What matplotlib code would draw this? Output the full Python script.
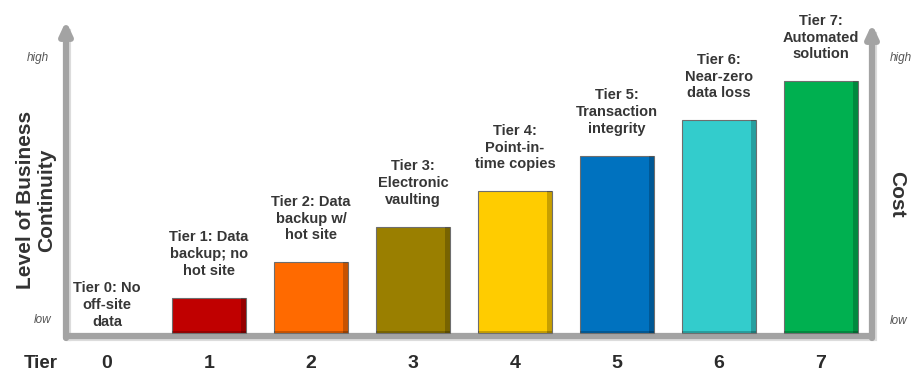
import matplotlib
matplotlib.use("Agg")
import matplotlib.pyplot as plt

tiers = [0, 1, 2, 3, 4, 5, 6, 7]
values = [0, 1.0, 2.0, 3.0, 4.0, 5.0, 6.0, 7.1]
labels = ["Tier 0: No\noff-site\ndata",
          "Tier 1: Data\nbackup; no\nhot site",
          "Tier 2: Data\nbackup w/\nhot site",
          "Tier 3:\nElectronic\nvaulting",
          "Tier 4:\nPoint-in-\ntime copies",
          "Tier 5:\nTransaction\nintegrity",
          "Tier 6:\nNear-zero\ndata loss",
          "Tier 7:\nAutomated\nsolution"]
colors = ["#ffffff", "#c00000", "#ff6a00", "#9a7f00", "#ffcc00",
          "#0072bf", "#33cccc", "#00b050"]

FONT = ["Liberation Sans", "DejaVu Sans"]

# pixel mapping helpers (figure 914x373)
W, H = 914, 373
X0, XS = 107.0, 102.0   # data 0 at px 107, 102 px per tier
Y0, YS = 333.0, 35.5    # data 0 at px 333, 35.5 px per unit

fig = plt.figure(figsize=(9.14, 3.73), dpi=100)
ax = fig.add_axes([0, 0, 1, 1])
ax.set_xlim((0 - X0) / XS, (W - X0) / XS)
ax.set_ylim((Y0 - H) / YS, (Y0 - 0) / YS)
ax.axis("off")

def px(x):
    return (x - X0) / XS

def py(y):
    return (Y0 - y) / YS

axis_col = "#a3a3a3"
shadow_col = "#dcdcdc"

# baseline shadow + baseline
ax.plot([px(66), px(875)], [py(339), py(339)], color=shadow_col, lw=3, solid_capstyle="butt", zorder=1)
ax.plot([px(63), px(873)], [py(336), py(336)], color=axis_col, lw=4.5, solid_capstyle="butt", zorder=2)

# vertical arrows
for xa, ytop in [(66, 21), (872, 24)]:
    ax.plot([px(xa + 3), px(xa + 3)], [py(339), py(ytop + 10)], color=shadow_col, lw=3, zorder=1)
    ax.annotate("", xy=(px(xa), py(ytop)), xytext=(px(xa), py(338)),
                arrowprops=dict(arrowstyle="-|>,head_width=0.35,head_length=0.75",
                                color=axis_col, lw=4.5, shrinkA=0, shrinkB=0),
                zorder=2)

# bars
bars = ax.bar(tiers, values, width=0.72, color=colors, edgecolor="#6e6e6e",
              linewidth=0.8, zorder=3)
bars[0].set_visible(False)
# right-side and bottom darker shading
for t, v in zip(tiers[1:], values[1:]):
    ax.bar(t + 0.36 - 0.025, v, width=0.05, color="black", alpha=0.22,
           linewidth=0, zorder=4)
    ax.bar(t, 0.07, width=0.72, color="black", alpha=0.22, linewidth=0, zorder=4)

# labels above bars
for t, v, lab in zip(tiers, values, labels):
    ax.text(t, v + 0.55 if v > 0 else 0.12, lab, ha="center", va="bottom",
            fontsize=10.5, fontweight="bold", color="#363636",
            family=FONT, linespacing=1.25, zorder=5)

# tick labels
for t in tiers:
    ax.text(t, py(363), str(t), ha="center", va="center", fontsize=14,
            fontweight="bold", color="#2b2b2b", family=FONT)
ax.text(px(41), py(363), "Tier", ha="center", va="center", fontsize=13.5,
        fontweight="bold", color="#2b2b2b", family=FONT)

# axis titles
ax.text(px(36), py(200), "Level of Business\nContinuity", rotation=90,
        ha="center", va="center", fontsize=15, fontweight="bold",
        color="#333333", family=FONT, linespacing=1.1)
ax.text(px(897), py(194), "Cost", rotation=-90, ha="center", va="center",
        fontsize=15, fontweight="bold", color="#333333", family=FONT)

# high / low
for x, y, s in [(38, 58, "high"), (43, 320, "low"), (901, 58, "high"), (899, 321, "low")]:
    ax.text(px(x), py(y), s, ha="center", va="center", fontsize=8.5,
            style="italic", color="#555555", family=FONT)

fig.savefig("out.png", dpi=100)
